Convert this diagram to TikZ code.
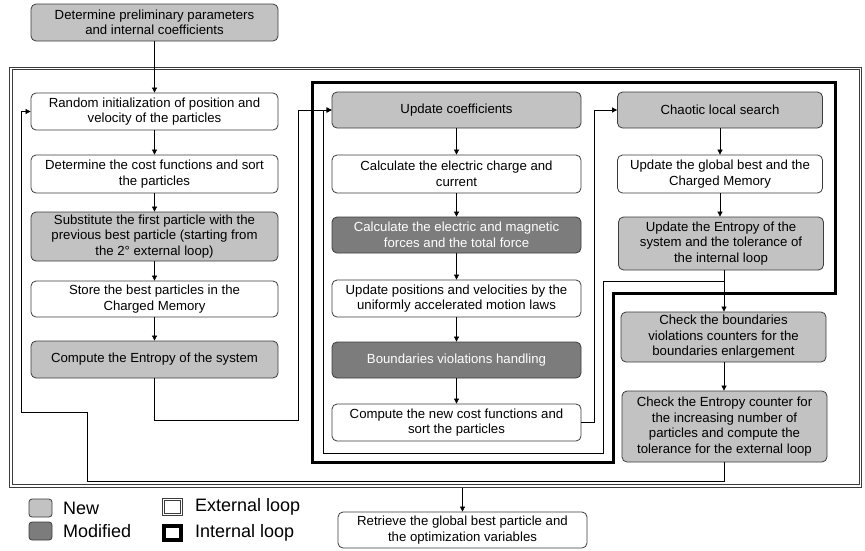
\documentclass[tikz,border=0pt]{standalone}
\usepackage{fontspec}
\setmainfont{Liberation Sans}
\usetikzlibrary{arrows.meta}
\definecolor{newgray}{HTML}{C2C2C2}
\definecolor{modgray}{HTML}{7C7C7C}
\definecolor{edgec}{HTML}{3C3C3C}
\tikzset{
  basebox/.style={draw=edgec, line width=0.8pt, rounded corners=5pt, align=center,
    inner sep=1pt, font=\fontsize{13.2}{15.5}\selectfont},
  wbox/.style={basebox, fill=white, text=black},
  newbox/.style={basebox, fill=newgray, text=black},
  modbox/.style={basebox, fill=modgray, text=white},
  sz/.style 2 args={minimum width=#1pt, minimum height=#2pt},
  conn/.style={draw=black, line width=0.7pt},
  arr/.style={conn, -{Triangle[length=5pt,width=5pt]}},
  legtext/.style={anchor=west, inner sep=0pt, font=\fontsize{18}{20}\selectfont},
  legsw/.style={draw=edgec, line width=0.8pt, rounded corners=3pt, minimum width=23pt, minimum height=18pt, inner sep=0pt}
}
\begin{document}
\begin{tikzpicture}[x=1pt, y=-1pt]
\useasboundingbox (0,0) rectangle (865,550);

% loops
\draw[draw=edgec, double, line width=1pt, double distance=1.6pt] (11,68.5) rectangle (860.5,486);
\draw[line width=3pt, line join=miter] (312,82) -- (835,82) -- (835,293) -- (613,293) -- (613,462) -- (312,462) -- cycle;

% left column
\node[newbox, sz={247}{37}] (top) at (154.5,22.5) {Determine preliminary parameters\\and internal coefficients};
\node[wbox, sz={247}{37}] (rand) at (154.5,111.5) {Random initialization of position and\\velocity of the particles};
\node[wbox, sz={247}{38}] (cost) at (154.5,174) {Determine the cost functions and sort\\the particles};
\node[newbox, sz={247}{49}] (subst) at (154.5,236.5) {Substitute the first particle with the\\previous best particle (starting from\\the 2° external loop)};
\node[wbox, sz={247}{36}] (store) at (154.5,299) {Store the best particles in the\\Charged Memory};
\node[newbox, sz={247}{37}] (ent) at (154.5,359.5) {Compute the Entropy of the system};

% middle column
\node[newbox, sz={249}{36}] (upd) at (456.5,110) {Update coefficients};
\node[wbox, sz={249}{38}] (charge) at (456.5,174) {Calculate the electric charge and\\current};
\node[modbox, sz={249}{36}] (forces) at (456.5,235) {Calculate the electric and magnetic\\forces and the total force};
\node[wbox, sz={249}{37}] (pos) at (456.5,298.5) {Update positions and velocities by the\\uniformly accelerated motion laws};
\node[modbox, sz={249}{36}] (bound) at (456.5,360) {Boundaries violations handling};
\node[wbox, sz={249}{37}] (newc) at (456.5,422.5) {Compute the new cost functions and\\sort the particles};

% right column
\node[newbox, sz={205}{36}] (chaos) at (720,110) {Chaotic local search};
\node[wbox, sz={205}{38}] (gbest) at (720,174) {Update the global best and the\\Charged Memory};
\node[newbox, sz={205}{53}] (uent) at (721,243.5) {Update the Entropy of the\\system and the tolerance of\\the internal loop};
\node[newbox, sz={205}{50}] (chkb) at (723.5,337) {Check the boundaries\\violations counters for the\\boundaries enlargement};
\node[newbox, sz={205}{71}] (chke) at (724.5,426.5) {Check the Entropy counter for\\the increasing number of\\particles and compute the\\tolerance for the external loop};

% bottom
\node[wbox, sz={249}{36}] (retr) at (462.5,530) {Retrieve the global best particle and\\the optimization variables};

% coordinates
\coordinate (e1) at (298,420);
\coordinate (n1) at (594,422.5);
\coordinate (f1) at (603,281);
\coordinate (f2) at (603,453);
\coordinate (f3) at (323,453);
\coordinate (g1) at (87,481);
\coordinate (g2) at (87,412);
\coordinate (g3) at (21,412);
\coordinate (x1) at (462.5,487.5);

% left column arrows
\draw[arr] (top.south) -- (rand.north);
\draw[arr] (rand.south) -- (cost.north);
\draw[arr] (cost.south) -- (subst.north);
\draw[arr] (subst.south) -- (store.north);
\draw[arr] (store.south) -- (ent.north);
\draw[arr] (ent.south) |- (e1) |- (upd.west);

% middle arrows
\draw[arr] (upd.south) -- (charge.north);
\draw[arr] (charge.south) -- (forces.north);
\draw[arr] (forces.south) -- (pos.north);
\draw[arr] (pos.south) -- (bound.north);
\draw[arr] (bound.south) -- (newc.north);
\draw[arr] (newc.east) -- (n1) |- (chaos.west);

% right arrows
\draw[arr] (chaos.south) -- (gbest.north);
\draw[arr] (gbest.south) -- (gbest.south |- uent.north);
\draw[arr] (uent.south -| 724,0) -- (chkb.north -| 724,0);
\draw[arr] (chkb.south -| 724,0) -- (chke.north -| 724,0);

% internal loop feedback
\draw[arr] (uent.south -| 724,0) |- (f1) -- (f2) -- (f3) |- (upd.west);

% external loop feedback
\draw[arr] (chke.south -| 724,0) |- (g1) -- (g2) -- (g3) |- (rand.west);

% exit
\draw[arr] (x1) -- (retr.north);

% legend
\node[legsw, fill=newgray] (lnew) at (40.5,508) {};
\node[legtext] (tnew) at (63,508) {New};
\node[legsw, fill=modgray] (lmod) at (40.5,531) {};
\node[legtext] (tmod) at (63,531) {Modified};
\node[draw=edgec, double, line width=0.9pt, double distance=1.6pt, minimum width=18pt, minimum height=15pt, inner sep=0pt] (lext) at (172.5,507) {};
\node[legtext] (text) at (195,507) {External loop};
\node[draw=black, line width=3.5pt, minimum width=17pt, minimum height=14pt, inner sep=0pt] (lint) at (172.5,533) {};
\node[legtext] (tint) at (195,533) {Internal loop};
\end{tikzpicture}
\end{document}
